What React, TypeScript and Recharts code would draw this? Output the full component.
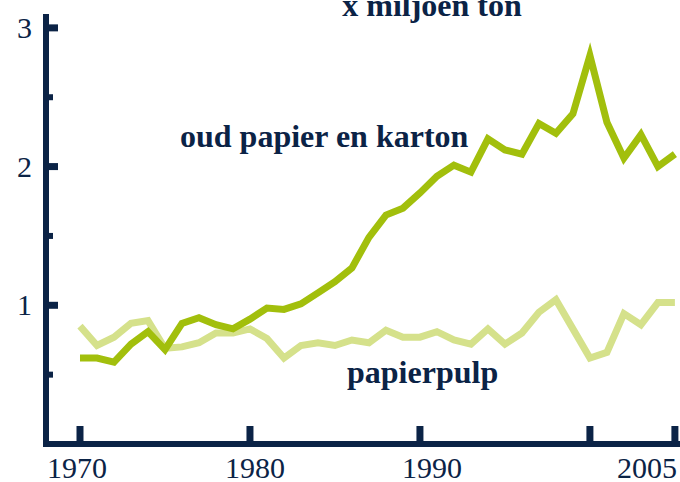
import React from 'react';
import { LineChart, Line, XAxis, YAxis } from 'recharts';

const years = [
  1970, 1971, 1972, 1973, 1974, 1975, 1976, 1977, 1978, 1979, 1980, 1981,
  1982, 1983, 1984, 1985, 1986, 1987, 1988, 1989, 1990, 1991, 1992, 1993,
  1994, 1995, 1996, 1997, 1998, 1999, 2000, 2001, 2002, 2003, 2004, 2005,
];

// oud papier en karton (x miljoen ton)
const oudPapier = [
  0.62, 0.62, 0.59, 0.72, 0.81, 0.68, 0.87, 0.91, 0.86, 0.83, 0.9, 0.98,
  0.97, 1.01, 1.09, 1.17, 1.27, 1.49, 1.65, 1.7, 1.81, 1.93, 2.01, 1.96,
  2.2, 2.12, 2.09, 2.31, 2.24, 2.38, 2.8, 2.32, 2.06, 2.23, 2.0, 2.09,
];

// papierpulp (x miljoen ton)
const papierpulp = [
  0.85, 0.71, 0.77, 0.87, 0.89, 0.69, 0.7, 0.73, 0.8, 0.8, 0.83, 0.76,
  0.62, 0.71, 0.73, 0.71, 0.75, 0.73, 0.82, 0.77, 0.77, 0.81, 0.75, 0.72,
  0.83, 0.72, 0.8, 0.95, 1.04, 0.83, 0.62, 0.66, 0.94, 0.86, 1.02, 1.02,
];

const xTicks = [1970, 1980, 1990, 2000, 2005];
const xLabels = ['1970', '1980', '1990', '', '2005'];
const yTicks = [0.5, 1, 1.5, 2, 2.5, 3];

const data = years.map((year, i) => ({
  year,
  oud: oudPapier[i],
  pulp: papierpulp[i],
}));

const NAVY = '#0b2346';
const DARK_GREEN = '#a2bf0c';
const LIGHT_GREEN = '#d5e18b';
const FONT = '"Liberation Serif", "Times New Roman", serif';

// labels in the original sit a little off their tick marks
const xLabelShift = [-3, 5, 12, 0, 2];

const YTick = (props: any) => {
  const { x, y, payload } = props;
  const major = Number.isInteger(payload.value);
  return (
    <g>
      <line
        x1={x}
        x2={x + (major ? 12 : 7)}
        y1={y}
        y2={y}
        stroke={NAVY}
        strokeWidth={major ? 7 : 6}
      />
      {major && (
        <text x={x - 14} y={y + 10} textAnchor="end" fontFamily={FONT} fontSize={30} fill={NAVY}>
          {payload.value}
        </text>
      )}
    </g>
  );
};

const XTick = (props: any) => {
  const { x, y, payload, index } = props;
  const label = xLabels[index];
  const last = index === xTicks.length - 1;
  return (
    <g>
      <line x1={x} x2={x} y1={y} y2={y - 18} stroke={NAVY} strokeWidth={7} />
      {label && (
        <text
          x={x + xLabelShift[index]}
          y={y + 34}
          textAnchor={last ? 'end' : 'middle'}
          fontFamily={FONT}
          fontSize={30}
          fill={NAVY}
        >
          {label}
        </text>
      )}
    </g>
  );
};

const App = () => {
  return (
    <div style={{ position: 'absolute', left: 0, top: 0, width: 680, height: 482, background: '#fff' }}>
      <LineChart width={680} height={482} data={data} margin={{ top: 14, right: 0, left: 0, bottom: 0 }}>
        <XAxis
          dataKey="year"
          type="number"
          domain={[1968, 2005.3]}
          ticks={xTicks}
          interval={0}
          height={38}
          tickSize={0}
          tickMargin={0}
          tickLine={false}
          tick={<XTick />}
          axisLine={{ stroke: NAVY, strokeWidth: 6, strokeLinecap: 'square' }}
        />
        <YAxis
          type="number"
          domain={[0, 3.1]}
          ticks={yTicks}
          interval={0}
          width={46}
          tickSize={0}
          tickMargin={0}
          tickLine={false}
          tick={<YTick />}
          axisLine={{ stroke: NAVY, strokeWidth: 6 }}
        />
        <Line
          type="linear"
          dataKey="pulp"
          stroke={LIGHT_GREEN}
          strokeWidth={7}
          dot={false}
          activeDot={false}
          isAnimationActive={false}
        />
        <Line
          type="linear"
          dataKey="oud"
          stroke={DARK_GREEN}
          strokeWidth={7}
          dot={false}
          activeDot={false}
          isAnimationActive={false}
        />
        <text x={432} y={16} textAnchor="middle" fontFamily={FONT} fontWeight="bold" fontSize={32} fill={NAVY}>
          x miljoen ton
        </text>
        <text x={180} y={147} fontFamily={FONT} fontWeight="bold" fontSize={32} fill={NAVY}>
          oud papier en karton
        </text>
        <text x={347} y={383} fontFamily={FONT} fontWeight="bold" fontSize={32} fill={NAVY}>
          papierpulp
        </text>
      </LineChart>
    </div>
  );
};

export default App;
